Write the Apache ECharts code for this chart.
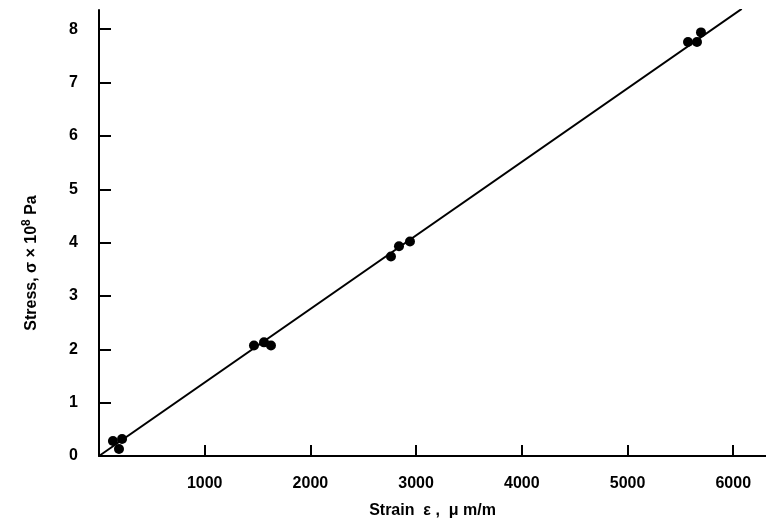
<!DOCTYPE html>
<html>
<head>
<meta charset="utf-8">
<script src="https://cdn.jsdelivr.net/npm/echarts@6/dist/echarts.min.js"></script>
<style>
  html, body { margin: 0; padding: 0; background: #fff; }
  #chart { width: 766px; height: 524px; }
</style>
</head>
<body>
<div id="chart"></div>
<script>
// measured points (strain in μm/m, stress in 10^8 Pa)
const strain = [132, 218, 189, 1466, 1561, 1627, 2762, 2838, 2942, 5572, 5657, 5695];
const stress = [0.28, 0.32, 0.13, 2.07, 2.13, 2.07, 3.74, 3.93, 4.02, 7.76, 7.76, 7.94];
// fitted straight line, end points
const fitStrain = [0, 6080];
const fitStress = [0, 8.38];
// tick labels
const xTicks = [1000, 2000, 3000, 4000, 5000, 6000];
const yTicks = [0, 1, 2, 3, 4, 5, 6, 7, 8];

const font = "'Liberation Sans', Arial, sans-serif";
const ink = "#000";

const chart = echarts.init(document.getElementById("chart"));
chart.setOption({
  animation: false,
  grid: {
    left: 99,
    right: 0,
    top: 10,
    bottom: 67
  },
  xAxis: {
    type: "value",
    min: 0,
    max: 6310,
    name: "Strain  \u03b5 ,  \u03bc m/m",
    nameLocation: "middle",
    nameGap: 47,
    nameTextStyle: { color: ink, fontFamily: font, fontWeight: "bold", fontSize: 16 },
    axisLine: { show: true, onZero: false, lineStyle: { color: ink, width: 2 } },
    axisTick: { show: true, inside: true, length: 11, customValues: xTicks, lineStyle: { color: ink, width: 2 } },
    axisLabel: {
      customValues: xTicks,
      formatter: (v) => String(v),
      margin: 20,
      color: ink,
      fontFamily: font,
      fontWeight: "bold",
      fontSize: 16
    },
    splitLine: { show: false }
  },
  yAxis: {
    type: "value",
    min: 0,
    max: 8.36,
    name: "Stress, \u03c3 \u00d7 10{sup|8} Pa",
    nameLocation: "middle",
    nameGap: 56,
    nameRotate: 90,
    nameTextStyle: {
      color: ink,
      fontFamily: font,
      fontWeight: "bold",
      fontSize: 16,
      padding: [0, 60, 0, 0],
      rich: {
        sup: { fontFamily: font, fontWeight: "bold", fontSize: 12, color: ink, padding: [0, 0, 10, 0] }
      }
    },
    axisLine: { show: true, onZero: false, lineStyle: { color: ink, width: 2 } },
    axisTick: { show: true, inside: true, length: 12, customValues: yTicks.slice(1), lineStyle: { color: ink, width: 2 } },
    axisLabel: {
      customValues: yTicks,
      margin: 21,
      color: ink,
      fontFamily: font,
      fontWeight: "bold",
      fontSize: 16
    },
    splitLine: { show: false }
  },
  series: [
    {
      name: "fit",
      type: "line",
      data: fitStrain.map((x, i) => [x, fitStress[i]]),
      symbol: "none",
      lineStyle: { color: ink, width: 2 },
      z: 2
    },
    {
      name: "measured",
      type: "scatter",
      data: strain.map((x, i) => [x, stress[i]]),
      symbolSize: 10,
      itemStyle: { color: ink, opacity: 1 },
      z: 3
    }
  ]
});
</script>
</body>
</html>
